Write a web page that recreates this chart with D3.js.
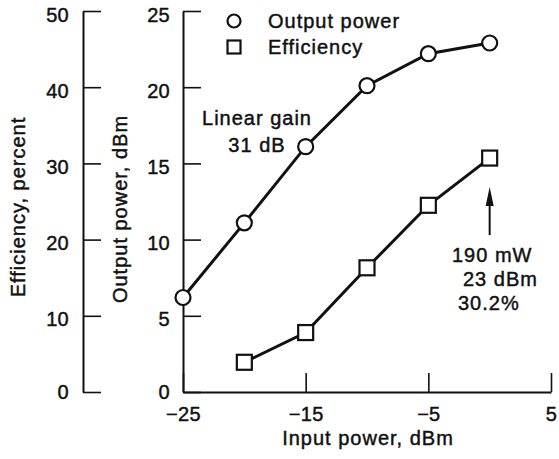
<!DOCTYPE html>
<html>
<head>
<meta charset="utf-8">
<script src="https://cdn.jsdelivr.net/npm/d3@7"></script>
<style>
  body { margin: 0; background: #fff; }
  svg text { font-family: "Liberation Sans", Arial, sans-serif; fill: #111; stroke: #111; stroke-width: 0.45px; }
</style>
</head>
<body>
<div id="root"></div>
<script>
// input power steps for each curve
const inputPower = [-25, -20, -15, -10, -5, 0];
const outputPower = [6.2, 11.1, 16.1, 20.1, 22.2, 22.9];
const effInput = [-20, -15, -10, -5, 0];
const efficiency = [3.9, 7.8, 16.3, 24.5, 30.7];

// tick labels
const xTicks = [-25, -15, -5, 5];
const outTicks = [0, 5, 10, 15, 20, 25];
const effTicks = [0, 10, 20, 30, 40, 50];

// texts
const legendLabels = ["Output power", "Efficiency"];
const gainNote = ["Linear gain", "31 dB"];
const pointNote = ["190 mW", "23 dBm", "30.2%"];

const width = 559, height = 459;
const fontSize = 20, spacing = "1px";

const svg = d3.select("#root")
  .append("svg")
  .attr("width", width)
  .attr("height", height)
  .attr("viewBox", [0, 0, width, height]);

svg.append("rect").attr("width", width).attr("height", height).attr("fill", "#fff");

// scales
const x = d3.scaleLinear().domain([-25, 5]).range([183, 551]);
const yOut = d3.scaleLinear().domain([0, 25]).range([392, 11]);
const yEff = d3.scaleLinear().domain([0, 50]).range([392, 11]);

function styleAxis(g) {
  g.select(".domain").attr("stroke", "#111").attr("stroke-width", 2);
  g.selectAll(".tick line").attr("stroke", "#111").attr("stroke-width", 1.6);
  g.selectAll(".tick text")
    .attr("font-size", fontSize)
    .attr("font-family", "Liberation Sans, Arial, sans-serif")
    .attr("letter-spacing", "0.3px")
    .attr("fill", "#111");
}

// vertical tick labels sit a bit below their ticks, the zero a bit less
const yLabelShift = g => g.selectAll(".tick text").attr("dy", d => d === 0 ? "0.3em" : "0.5em");

// efficiency axis (far left)
svg.append("g")
  .attr("transform", "translate(83,0)")
  .call(d3.axisLeft(yEff).tickValues(effTicks).tickSize(-18).tickSizeOuter(0).tickPadding(14))
  .call(styleAxis)
  .call(yLabelShift);

// output power axis
svg.append("g")
  .attr("transform", `translate(${x(-25)},0)`)
  .call(d3.axisLeft(yOut).tickValues(outTicks).tickSize(-18).tickSizeOuter(0).tickPadding(13))
  .call(styleAxis)
  .call(yLabelShift);

// input power axis
svg.append("g")
  .attr("transform", `translate(0,${yOut(0)})`)
  .call(d3.axisBottom(x).tickValues(xTicks).tickSize(-19).tickSizeOuter(0).tickPadding(15))
  .call(styleAxis);

// axis titles
const title = (txt, tx, ty, rot) => svg.append("text")
  .attr("transform", `translate(${tx},${ty}) rotate(${rot})`)
  .attr("text-anchor", "middle")
  .attr("font-size", fontSize)
  .attr("letter-spacing", spacing)
  .text(txt);

title("Efficiency, percent", 25, 207, -90);
title("Output power, dBm", 127, 209, -90);
title("Input power, dBm", 368, 445, 0);

// lines
const outPts = inputPower.map((v, i) => [x(v), yOut(outputPower[i])]);
const effPts = effInput.map((v, i) => [x(v), yEff(efficiency[i])]);

svg.append("path")
  .attr("d", d3.line()(outPts))
  .attr("fill", "none").attr("stroke", "#111").attr("stroke-width", 3);

svg.append("path")
  .attr("d", d3.line()(effPts))
  .attr("fill", "none").attr("stroke", "#111").attr("stroke-width", 3);

// markers
svg.append("g").selectAll("circle")
  .data(outPts)
  .join("circle")
  .attr("cx", d => d[0]).attr("cy", d => d[1]).attr("r", 7.5)
  .attr("fill", "#fff").attr("stroke", "#111").attr("stroke-width", 2.2);

const sq = 15;
svg.append("g").selectAll("rect")
  .data(effPts)
  .join("rect")
  .attr("x", d => d[0] - sq / 2).attr("y", d => d[1] - sq / 2)
  .attr("width", sq).attr("height", sq)
  .attr("fill", "#fff").attr("stroke", "#111").attr("stroke-width", 2.2);

// legend
const legend = svg.append("g").attr("transform", "translate(234,21)");
legend.append("circle").attr("r", 6.5).attr("fill", "#fff").attr("stroke", "#111").attr("stroke-width", 2.2);
legend.append("rect").attr("x", -6.5).attr("y", 19.5).attr("width", 13).attr("height", 13)
  .attr("fill", "#fff").attr("stroke", "#111").attr("stroke-width", 2.2);
legend.selectAll("text")
  .data(legendLabels)
  .join("text")
  .attr("x", 34).attr("y", (d, i) => 7 + i * 26)
  .attr("font-size", fontSize)
  .attr("letter-spacing", spacing)
  .text(d => d);

// linear gain note
svg.append("g").selectAll("text")
  .data(gainNote)
  .join("text")
  .attr("x", 257).attr("y", (d, i) => 125 + i * 27)
  .attr("text-anchor", "middle")
  .attr("font-size", fontSize)
  .attr("letter-spacing", spacing)
  .text(d => d);

// arrow pointing at last efficiency point
const ax = x(0), tipY = yEff(efficiency[4]) + 29;
svg.append("line")
  .attr("x1", ax).attr("x2", ax).attr("y1", tipY + 14).attr("y2", tipY + 48)
  .attr("stroke", "#111").attr("stroke-width", 2);
svg.append("path")
  .attr("d", `M${ax},${tipY} L${ax - 4},${tipY + 19} L${ax + 4},${tipY + 19} Z`)
  .attr("fill", "#111");

const noteX = [452, 463, 458];
svg.append("g").selectAll("text")
  .data(pointNote)
  .join("text")
  .attr("x", (d, i) => noteX[i]).attr("y", (d, i) => 262 + i * 24)
  .attr("font-size", fontSize)
  .attr("letter-spacing", spacing)
  .text(d => d);
</script>
</body>
</html>
